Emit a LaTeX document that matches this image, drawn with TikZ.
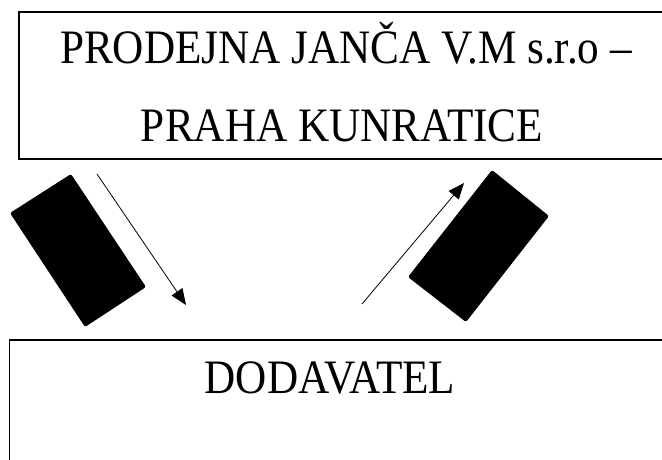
\documentclass[tikz,border=0pt]{standalone}
\usepackage{fontspec}
\setmainfont{Liberation Serif}[FakeStretch=0.9]
\usetikzlibrary{arrows.meta}
\begin{document}
\begin{tikzpicture}[x=1pt,y=-1pt,
  boxstyle/.style={draw, line width=1.5pt, inner sep=0pt, anchor=north west},
  bigtext/.style={font=\fontsize{48}{56}\selectfont, inner sep=0pt, anchor=base},
  blockstyle/.style={fill=black, rounded corners=2pt},
  flow/.style={line width=0.8pt, -{Triangle[length=16pt,width=13pt]}}]
\useasboundingbox (0,0) rectangle (662,459);
\clip (0,0) rectangle (662,459);
% boxes
\node[boxstyle, minimum width=660pt, minimum height=147pt] (prodejna) at (18,11) {};
\node[boxstyle, minimum width=670pt, minimum height=140pt] (dodavatel) at (8.5,339) {};
% texts
\node[bigtext] (t1) at (346,63) {PRODEJNA JANČA V.M s.r.o –};
\node[bigtext] (t2) at (342,141) {PRAHA KUNRATICE};
\node[bigtext] (t3) at (330,393) {DODAVATEL};
% black blocks
\fill[blockstyle] (71,174) -- (146,287) -- (85,327) -- (10,213) -- cycle;
\fill[blockstyle] (492,170) -- (549,216) -- (466,322) -- (408,277) -- cycle;
% arrows
\coordinate (a1s) at (97,174);
\coordinate (a1e) at (186,305);
\coordinate (a2s) at (362,304);
\coordinate (a2e) at (464,183);
\draw[flow] (a1s) -- (a1e);
\draw[flow] (a2s) -- (a2e);
\end{tikzpicture}
\end{document}
